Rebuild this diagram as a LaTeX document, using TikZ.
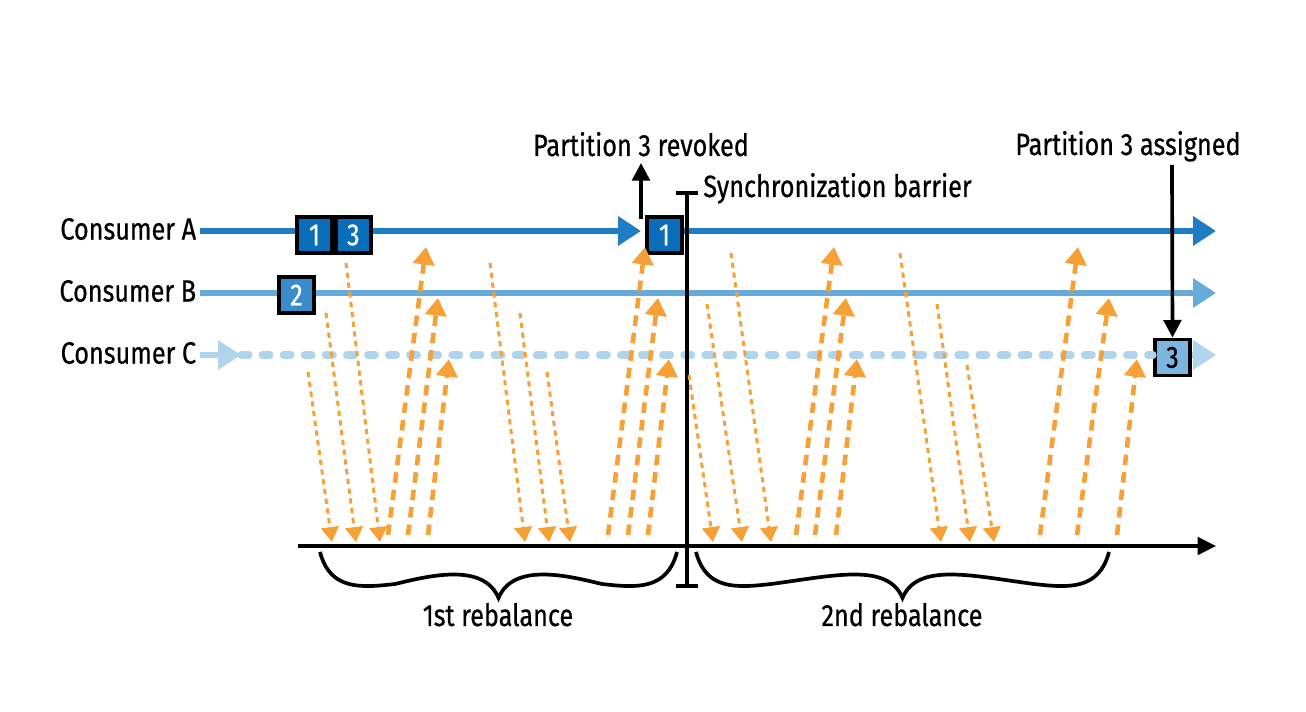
\documentclass[tikz,border=0pt]{standalone}
\usepackage{fontspec}
\setmainfont{Fira Sans}[FakeStretch=0.82,FakeBold=0.6]
\usepackage{tikz}
\usetikzlibrary{arrows.meta,positioning}
\definecolor{lineA}{HTML}{1F7DC4}
\definecolor{lineB}{HTML}{66ABD9}
\definecolor{lineC}{HTML}{B0D4EB}
\definecolor{fillA}{HTML}{0A6DB9}
\definecolor{fillB}{HTML}{3A8CCB}
\definecolor{fillC}{HTML}{7CB5E0}
\definecolor{msg}{HTML}{F7A035}

\begin{document}
\begin{tikzpicture}[x=0.02cm,y=-0.02cm,font=\fontsize{17.5}{21}\selectfont]
 \tikzstyle{consumer} = [line width=3.6pt,-{Triangle[length=13pt,width=16pt]}]
 \tikzstyle{partbox} = [draw=black,line width=2.2pt,minimum width=0.7cm,minimum height=0.72cm,inner sep=0,text=white]
 \tikzstyle{blackarrow} = [line width=2.1pt,-{Triangle[length=10pt,width=10pt]}]
 \tikzstyle{fetch} = [msg,line width=1.7pt,dash pattern=on 3pt off 2.6pt,-{Triangle[length=8.5pt,width=10pt]}]
 \tikzstyle{reply} = [msg,line width=2.6pt,dash pattern=on 6pt off 4pt,-{Triangle[length=10pt,width=12pt]}]
 \tikzstyle{bracestyle} = [line width=2.1pt]
 \newcommand{\rebrace}[2]{%
  \draw[bracestyle] (#1,552) .. controls ({#1+10},590) and ({#1+40},588) .. ({#1+75},584)
   .. controls ({(#1+#2)/2-70},576) and ({(#1+#2)/2-15},562) .. ({(#1+#2)/2},598)
   .. controls ({(#1+#2)/2+15},562) and ({(#1+#2)/2+70},576) .. ({#2-75},584)
   .. controls ({#2-40},588) and ({#2-10},590) .. (#2,552);}

 \useasboundingbox (0,0) rectangle (1306,712);

% Consumers
 \node[anchor=east,inner sep=2pt] (consA) at (200,229) {Consumer A};
 \node[anchor=east,inner sep=2pt] (consB) at (200,291) {Consumer B};
 \node[anchor=east,inner sep=2pt] (consC) at (200,353) {Consumer C};
 \coordinate (revA) at (641,231);
 \coordinate (endA) at (1216,231);
 \coordinate (endB) at (1216,293);
 \coordinate (startC) at (241,355);
 \coordinate (endC) at (1216,355);

 \draw[consumer,lineA] (consA.east |- revA) -- (revA);
 \draw[consumer,lineB] (consB.east |- endB) -- (endB);
 \draw[consumer,lineC] (consC.east |- startC) -- (startC);

% Partitions
 \node[partbox,fill=fillA] (pA1) at (314.5,235) {1};
 \node[partbox,fill=fillA,right=0pt of pA1] (pA3) {3};
 \node[partbox,fill=fillB] (pB2) at (296.5,295) {2};
 \node[partbox,fill=fillA] (pA1b) at (664.5,235) {1};
 \node[partbox,fill=fillC,text=black] (pC3) at (1172.5,357.5) {3};
 \draw[consumer,lineA] (pA1b.east |- endA) -- (endA);
 \draw[lineC,line width=4pt,line cap=round,dash pattern=on 4.5pt off 7.5pt] (startC) -- (pC3.west |- startC);
 \draw[consumer,lineC] (pC3.east |- endC) -- (endC);

% Revoke and assign
 \coordinate (revFrom) at (641,219);
 \coordinate (revTo) at (641,163);
 \node[anchor=base,inner sep=0] (revText) at (641,156) {Partition 3 revoked};
 \draw[blackarrow] (revFrom) -- (revTo);
 \node[anchor=base,inner sep=0] (asgText) at (1128,155) {Partition 3 assigned};
 \coordinate (asgFrom) at (1172,165);
 \draw[blackarrow] (asgFrom) -- (pC3.north);

% Barrier and time axis
 \coordinate (barTop) at (687,191);
 \coordinate (barBot) at (687,588);
 \draw[line width=2.1pt,{Bar[width=12.5pt]}-{Bar[width=12.5pt]}] (barTop) -- (barBot);
 \node[anchor=base west,inner sep=0] (barText) at (703,197) {Synchronization barrier};
 \coordinate (t0) at (298,546);
 \coordinate (t1) at (1216,546);
 \draw[line width=2.1pt,-{Triangle[length=10.5pt,width=10pt]}] (t0) -- (t1);

% Messages to the coordinator
 \draw[fetch] (308,372) -- (332,542);
 \draw[fetch] (326,313) -- (356,542);
 \draw[fetch] (346,263) -- (380,542);
 \draw[reply] (388,535) -- (426,247);
 \draw[reply] (408,535) -- (438,298);
 \draw[reply] (428,535) -- (449,359);
 \draw[fetch] (490,263) -- (525,542);
 \draw[fetch] (520,313) -- (549,542);
 \draw[fetch] (547,372) -- (570,542);
 \draw[reply] (608,535) -- (645,247);
 \draw[reply] (628,535) -- (658,298);
 \draw[reply] (648,535) -- (669,359);
 \draw[fetch] (689,375) -- (713,542);
 \draw[fetch] (707,304) -- (742,542);
 \draw[fetch] (731,253) -- (771,542);
 \draw[reply] (796,535) -- (834,247);
 \draw[reply] (815,535) -- (846,298);
 \draw[reply] (836,535) -- (857,359);
 \draw[fetch] (900,253) -- (941,542);
 \draw[fetch] (937,304) -- (970,542);
 \draw[fetch] (967,365) -- (994,542);
 \draw[reply] (1040,535) -- (1078,247);
 \draw[reply] (1077,535) -- (1109,298);
 \draw[reply] (1117,535) -- (1137,359);

% Braces
 \rebrace{320}{677}
 \rebrace{696}{1109}
 \node[anchor=base,inner sep=0] (reb1) at (498,626) {1st rebalance};
 \node[anchor=base,inner sep=0] (reb2) at (902,626) {2nd rebalance};

\end{tikzpicture}
\end{document}
